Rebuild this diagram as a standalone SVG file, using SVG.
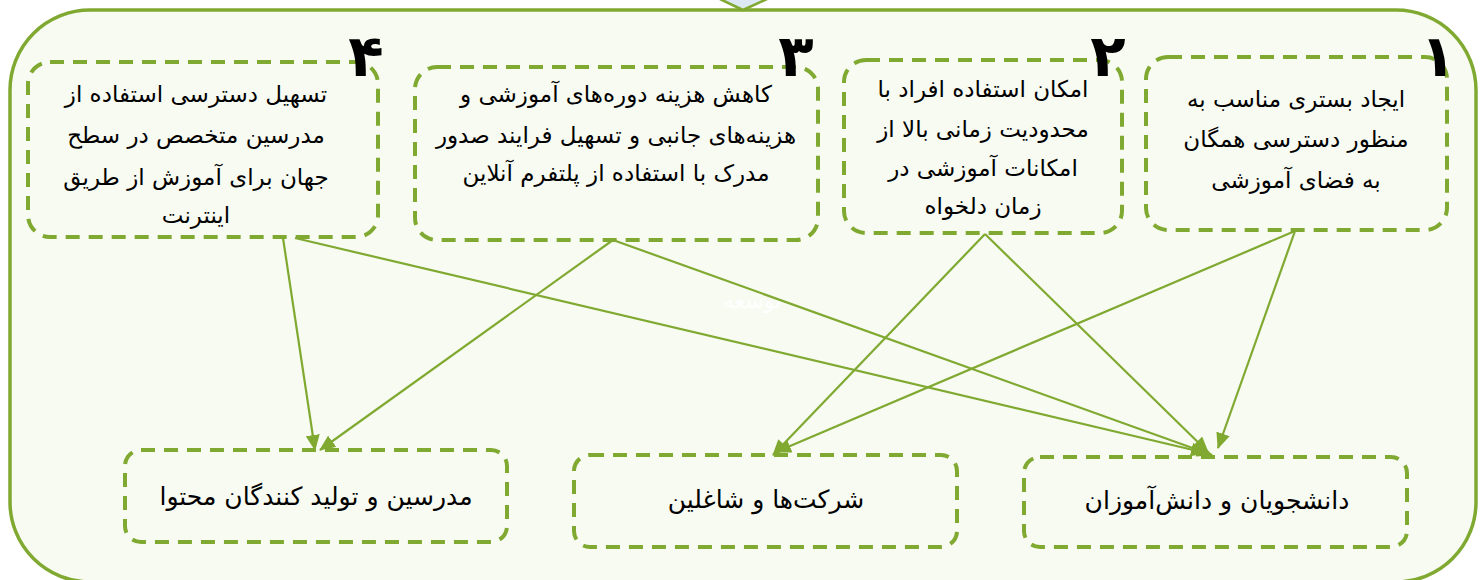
<svg xmlns="http://www.w3.org/2000/svg" width="1480" height="580" viewBox="0 0 1480 580">
<defs>
<style>
.box{fill:none;stroke:#80A931;stroke-width:4;stroke-dasharray:14 9}
.t{font-family:"DejaVu Sans",sans-serif;font-size:23px;fill:#000;text-anchor:middle;direction:rtl}
.b{font-size:25px}
.num{font-family:"DejaVu Sans",sans-serif;font-size:58px;font-weight:bold;fill:#000;text-anchor:middle}
.c{stroke:#80A931;stroke-width:2.2;fill:none;marker-end:url(#ah)}
</style>
<marker id="ah" markerUnits="userSpaceOnUse" markerWidth="16" markerHeight="14" refX="15" refY="7" orient="auto">
<path d="M0,0 L16,7 L0,14 Z" fill="#80A931"/>
</marker>
</defs>
<rect x="0" y="0" width="1480" height="580" fill="#FFFFFF"/>
<rect id="container" x="10" y="10" width="1466" height="572" rx="80" ry="80" fill="#F8FBF2" stroke="#80A931" stroke-width="3.5"/>
<path id="top-arrow" d="M720,-1 L743,10 L767,-1" fill="#DCE9F5" stroke="#80A931" stroke-width="2.5"/>
<text x="752" y="308" font-family="DejaVu Sans,sans-serif" font-size="22" fill="#FFFFFF" text-anchor="middle">توسعه</text>

<g id="connectors">
<line class="c" x1="283" y1="238" x2="315" y2="450"/>
<line class="c" x1="295" y1="238" x2="1206" y2="453"/>
<line class="c" x1="613" y1="240" x2="320" y2="450"/>
<line class="c" x1="613" y1="240" x2="1212" y2="455"/>
<line class="c" x1="985" y1="234" x2="773" y2="455"/>
<line class="c" x1="985" y1="234" x2="1208" y2="452"/>
<line class="c" x1="1295" y1="231" x2="776" y2="452"/>
<line class="c" x1="1295" y1="231" x2="1218" y2="448"/>
</g>

<g id="node4">
<rect class="box" x="28" y="62" width="350" height="175" rx="22"/>
<text class="t" x="196" y="102">تسهیل دسترسی استفاده از</text>
<text class="t" x="196" y="143">مدرسین متخصص در سطح</text>
<text class="t" x="196" y="185">جهان برای آموزش از طریق</text>
<text class="t" x="196" y="223">اینترنت</text>
<text class="num" x="366" y="76">۴</text>
</g>
<g id="node3">
<rect class="box" x="415" y="67" width="403" height="173" rx="22"/>
<text class="t" x="616" y="102">کاهش هزینه دوره‌های آموزشی و</text>
<text class="t" x="616" y="143">هزینه‌های جانبی و تسهیل فرایند صدور</text>
<text class="t" x="616" y="181">مدرک با استفاده از پلتفرم آنلاین</text>
<text class="num" x="796" y="76">۳</text>
</g>
<g id="node2">
<rect class="box" x="844" y="60" width="278" height="173" rx="22"/>
<text class="t" x="983" y="97">امکان استفاده افراد با</text>
<text class="t" x="983" y="137">محدودیت زمانی بالا از</text>
<text class="t" x="983" y="176">امکانات آموزشی در</text>
<text class="t" x="983" y="214">زمان دلخواه</text>
<text class="num" x="1108" y="76">۲</text>
</g>
<g id="node1">
<rect class="box" x="1146" y="57" width="301" height="173" rx="22"/>
<text class="t" x="1296" y="107">ایجاد بستری مناسب به</text>
<text class="t" x="1296" y="147">منظور دسترسی همگان</text>
<text class="t" x="1296" y="188">به فضای آموزشی</text>
<text class="num" x="1438" y="76">۱</text>
</g>
<g id="nodeA">
<rect class="box" x="125" y="450" width="382" height="92" rx="16"/>
<text class="t b" x="316" y="505">مدرسین و تولید کنندگان محتوا</text>
</g>
<g id="nodeB">
<rect class="box" x="574" y="455" width="383" height="92" rx="16"/>
<text class="t b" x="766" y="508">شرکت‌ها و شاغلین</text>
</g>
<g id="nodeC">
<rect class="box" x="1024" y="457" width="383" height="90" rx="16"/>
<text class="t b" x="1217" y="509">دانشجویان و دانش‌آموزان</text>
</g>
</svg>
